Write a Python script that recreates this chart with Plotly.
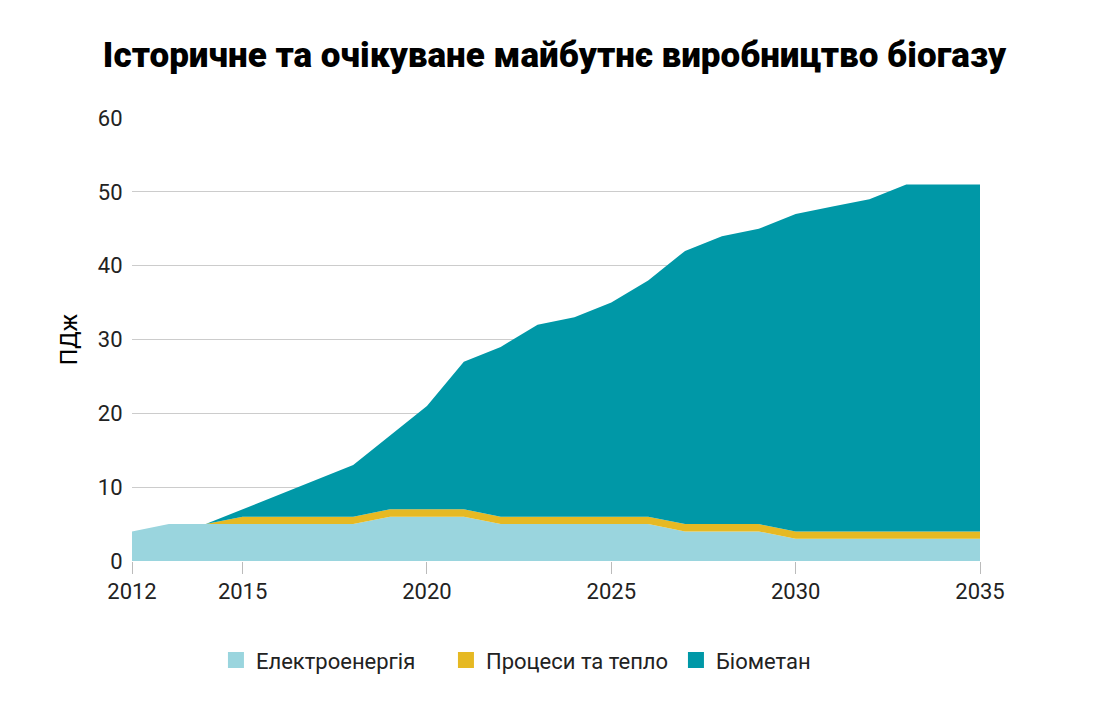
import plotly.graph_objects as go

years = list(range(2012, 2036))
electricity = [4, 5, 5, 5, 5, 5, 5, 6, 6, 6, 5, 5, 5, 5, 5, 4, 4, 4, 3, 3, 3, 3, 3, 3]
process_heat = [0, 0, 0, 1, 1, 1, 1, 1, 1, 1, 1, 1, 1, 1, 1, 1, 1, 1, 1, 1, 1, 1, 1, 1]
biomethane = [0, 0, 0, 1, 3, 5, 7, 10, 14, 20, 23, 26, 27, 29, 32, 37, 39, 40, 43, 44, 45, 47, 47, 47]

names = ["Електроенергія", "Процеси та тепло", "Біометан"]
colors = ["#9AD5DE", "#E6B923", "#0098A7"]
series = [electricity, process_heat, biomethane]

title = "Історичне та очікуване майбутнє виробництво біогазу"
y_title = "ПДж"
x_ticks = [2012, 2015, 2020, 2025, 2030, 2035]
y_ticks = [0, 10, 20, 30, 40, 50, 60]

fig = go.Figure()
for name, color, vals in zip(names, colors, series):
    fig.add_trace(go.Scatter(
        x=years, y=vals, name=name, mode="lines", stackgroup="one",
        line=dict(width=0, color=color), fillcolor=color, showlegend=False,
        hoverinfo="x+y+name",
    ))
for name, color in zip(names, colors):
    fig.add_trace(go.Scatter(
        x=[None], y=[None], name=name, mode="markers",
        marker=dict(symbol="square", size=22, color=color), showlegend=True,
    ))

tick_font = dict(family="Roboto, sans-serif", size=22, color="#222")

fig.update_layout(
    width=1093, height=702,
    paper_bgcolor="white", plot_bgcolor="white",
    margin=dict(l=124, r=121, t=110, b=149),
    title=dict(text=title, x=0.5, xanchor="center", y=0.933, yanchor="middle",
               font=dict(family="Roboto, sans-serif", size=35, color="#000", weight=900)),
    xaxis=dict(range=[2012, 2035], tickvals=x_ticks, ticks="outside", ticklen=12,
               tickcolor="#bbb", showgrid=False, zeroline=False, showline=False,
               tickfont=tick_font, automargin=False, ticklabelstandoff=-1),
    yaxis=dict(range=[0, 60], tickvals=y_ticks, showgrid=True, gridcolor="#cccccc",
               gridwidth=1, zeroline=False, showline=False, tickfont=tick_font,
               ticks="outside", ticklen=4, tickcolor="white", automargin=False,
               title=dict(text=y_title, font=dict(family="Roboto, sans-serif", size=23, color="#000"),
                          standoff=13)),
    legend=dict(orientation="h", x=0.099, xanchor="left", y=-0.224, yanchor="middle",
                traceorder="normal", entrywidth=185, entrywidthmode="pixels",
                font=dict(family="Roboto, sans-serif", size=22, color="#222"),
                itemwidth=30, tracegroupgap=0),
    hovermode="x unified",
)

fig.write_html("out.html")
